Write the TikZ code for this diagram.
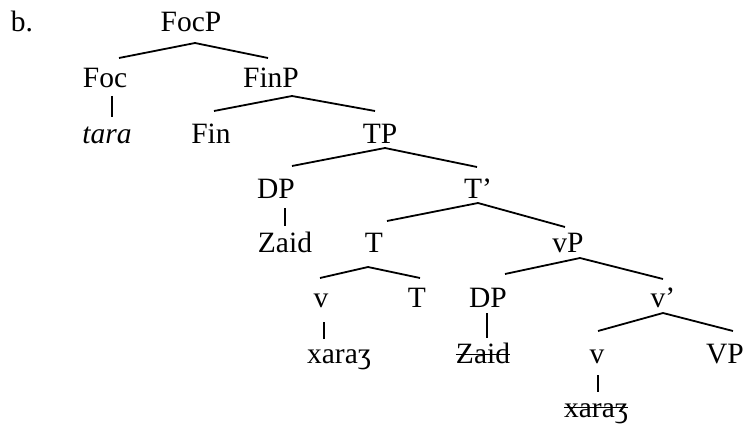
\documentclass[tikz,border=0pt]{standalone}
\usepackage{fontspec}
\setmainfont{Liberation Serif}
\begin{document}
\begin{tikzpicture}[x=1pt,y=-1pt,
  lbl/.style={anchor=base,inner sep=0pt,font=\fontsize{29.5}{35}\selectfont},
  br/.style={line width=1.8pt,line cap=butt},
  strike/.style={line width=1.5pt}]
\useasboundingbox (0,0) rectangle (743,425);
\node[lbl] (b) at (22,32) {b.};
\node[lbl] (FocP) at (191,32) {FocP};
\node[lbl] (Foc) at (105,88) {Foc};
\node[lbl] (FinP) at (271,88) {FinP};
\node[lbl] (tara) at (107,143) {\itshape tara};
\node[lbl] (Fin) at (211,143) {Fin};
\node[lbl] (TP) at (380,143) {TP};
\node[lbl] (DPa) at (276,198) {DP};
\node[lbl] (Tbar) at (478,198) {T’};
\node[lbl] (Zaida) at (285,252) {Zaid};
\node[lbl] (Ta) at (374,252) {T};
\node[lbl] (vP) at (568,252) {vP};
\node[lbl] (va) at (321,307) {v};
\node[lbl] (Tb) at (417,307) {T};
\node[lbl] (DPb) at (488,307) {DP};
\node[lbl] (vbar) at (663,307) {v’};
\node[lbl] (xa) at (339,363) {xaraʒ};
\node[lbl] (Zaidb) at (483,363) {Zaid};
\node[lbl] (vb) at (597,363) {v};
\node[lbl] (VP) at (725,363) {VP};
\node[lbl] (xb) at (596,417) {xaraʒ};
\newcommand\brn[4]{\draw[br] ([shift={#2}]#1.base) -- ([shift={#4}]#3.base);}
\brn{FocP}{(4,11)}{Foc}{(14,-30)}
\brn{FocP}{(4,11)}{FinP}{(-3,-30)}
\brn{Foc}{(7,8)}{tara}{(5,-26)}
\brn{FinP}{(21,8)}{Fin}{(3,-32)}
\brn{FinP}{(21,8)}{TP}{(-5,-32)}
\brn{TP}{(5,5)}{DPa}{(16,-32)}
\brn{TP}{(5,5)}{Tbar}{(-1,-31)}
\brn{DPa}{(9,10)}{Zaida}{(0,-26)}
\brn{Tbar}{(0,5)}{Ta}{(13,-31)}
\brn{Tbar}{(0,5)}{vP}{(-3,-25)}
\brn{Ta}{(-6,15)}{va}{(-1,-29)}
\brn{Ta}{(-6,15)}{Tb}{(3,-29)}
\brn{vP}{(12,6)}{DPb}{(17,-33)}
\brn{vP}{(12,6)}{vbar}{(0,-28)}
\brn{va}{(3,15)}{xa}{(-15,-24)}
\brn{DPb}{(-1,6)}{Zaidb}{(4,-25)}
\brn{vbar}{(0,6)}{vb}{(1,-32)}
\brn{vbar}{(0,6)}{VP}{(8,-32)}
\brn{vb}{(1,12)}{xb}{(2,-25)}
\draw[strike] ([yshift=8.5pt]Zaidb.base west) -- ([yshift=8.5pt]Zaidb.base east);
\draw[strike] ([yshift=9.5pt]xb.base west) -- ([yshift=9.5pt]xb.base east);
\end{tikzpicture}
\end{document}
